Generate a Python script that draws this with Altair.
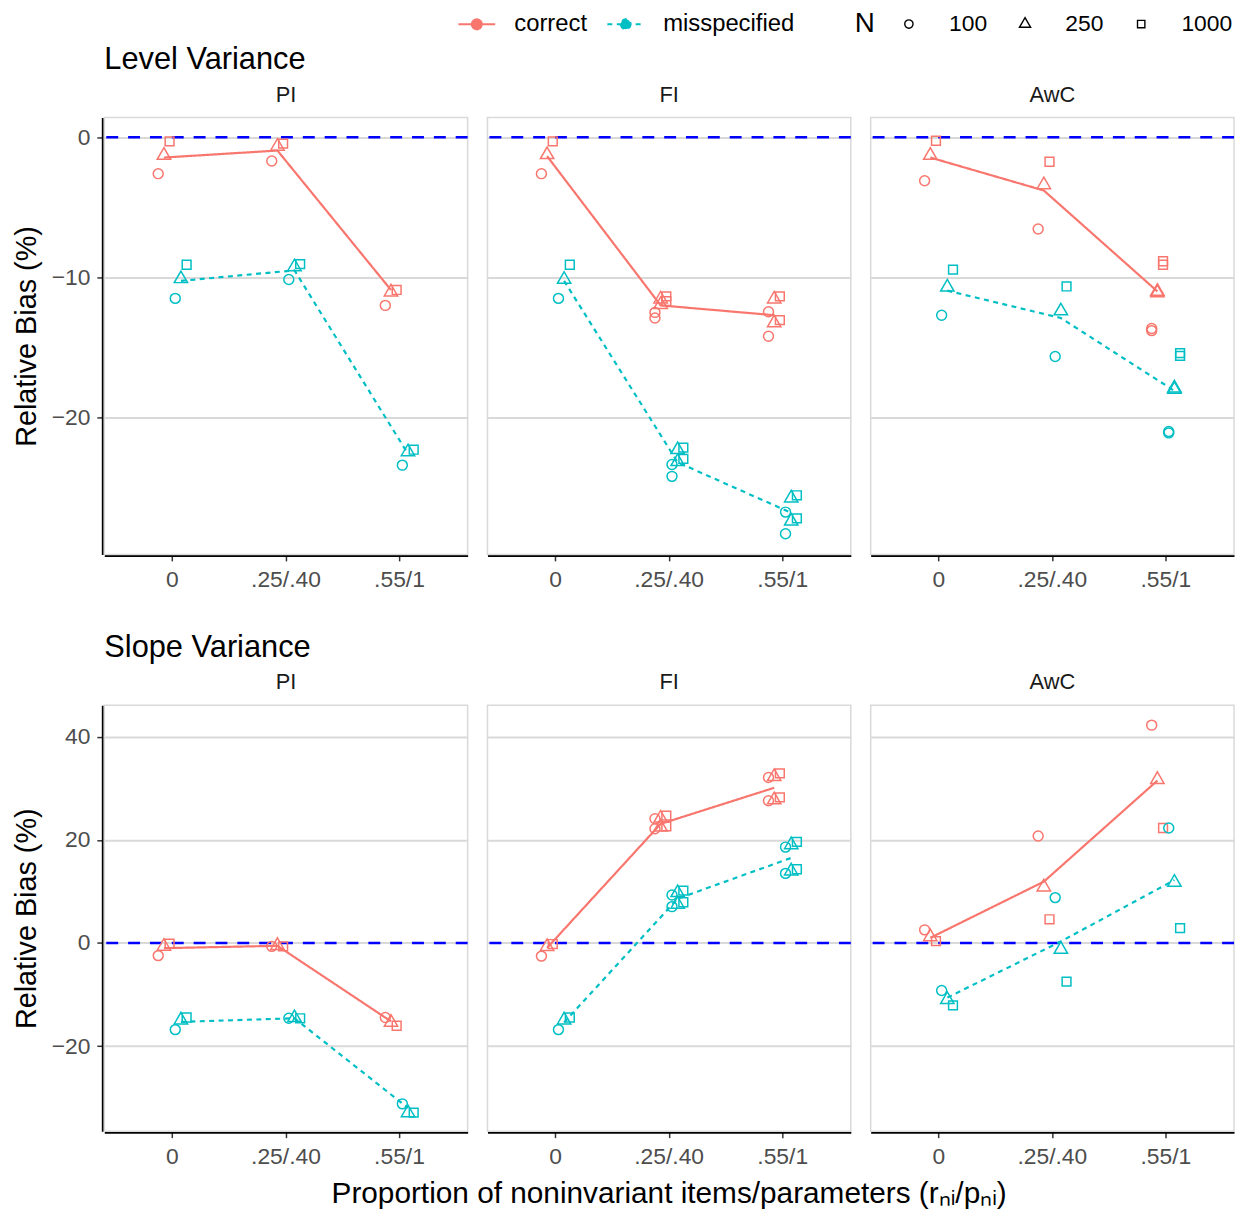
import altair as alt
import pandas as pd

FONT = "Liberation Sans"
PROPS = ["0", ".25/.40", ".55/1"]
METHODS = ["PI", "FI", "AwC"]
MODELS = ["correct", "misspecified"]
NS = ["100", "250", "1000"]
COLORS = ["#F8766D", "#00BFC4"]
GRPS = [f"{m} {n}" for m in MODELS for n in NS]

# Relative bias (%) of each plotted point: model -> N -> values per proportion category
# (two values where two conditions share a category)
level_PI = {
    "correct": {"100": [[-2.6], [-1.7], [-12.0]], "250": [[-1.3], [-0.65], [-11.05]], "1000": [[-0.3], [-0.45], [-10.9]]},
    "misspecified": {"100": [[-11.5], [-10.15], [-23.4]], "250": [[-10.1], [-9.25], [-22.45]], "1000": [[-9.1], [-9.05], [-22.3]]},
}
level_FI = {
    "correct": {"100": [[-2.6], [-12.5, -12.9], [-12.45, -14.2]], "250": [[-1.25], [-11.55, -11.95], [-11.55, -13.25]], "1000": [[-0.3], [-11.35, -11.7], [-11.35, -13.05]]},
    "misspecified": {"100": [[-11.5], [-23.35, -24.2], [-26.75, -28.3]], "250": [[-10.15], [-22.3, -23.15], [-25.75, -27.4]], "1000": [[-9.1], [-22.15, -22.95], [-25.55, -27.2]]},
}
level_AwC = {
    "correct": {"100": [[-3.1], [-6.55], [-13.65, -13.8]], "250": [[-1.3], [-3.4], [-11.0, -11.1]], "1000": [[-0.25], [-1.75], [-8.85, -9.1]]},
    "misspecified": {"100": [[-12.7], [-15.65], [-21.0, -21.1]], "250": [[-10.7], [-12.4], [-17.9, -18.0]], "1000": [[-9.45], [-10.65], [-15.4, -15.6]]},
}
slope_PI = {
    "correct": {"100": [[-2.45], [-0.65], [-14.45]], "250": [[-0.65], [-0.5], [-15.4]], "1000": [[-0.15], [-0.65], [-16.05]]},
    "misspecified": {"100": [[-16.8], [-14.6], [-31.2]], "250": [[-14.95], [-14.5], [-32.95]], "1000": [[-14.45], [-14.6], [-32.9]]},
}
slope_FI = {
    "correct": {"100": [[-2.55], [24.1, 22.15], [32.1, 27.6]], "250": [[-0.7], [24.2, 22.45], [32.25, 27.75]], "1000": [[-0.2], [24.7, 22.6], [32.9, 28.25]]},
    "misspecified": {"100": [[-16.8], [9.3, 7.05], [18.6, 13.5]], "250": [[-14.95], [9.75, 7.5], [19.05, 13.95]], "1000": [[-14.45], [10.15, 7.9], [19.6, 14.3]]},
}
slope_AwC = {
    "correct": {"100": [[2.55], [20.75], [42.25]], "250": [[1.2], [10.85], [31.7]], "1000": [[0.35], [4.6], [22.3]]},
    "misspecified": {"100": [[-9.2], [8.8], [22.3]], "250": [[-11.0], [-1.25], [11.75]], "1000": [[-12.1], [-7.5], [2.9]]},
}

# Summary lines (per model, per proportion category)
level_lines_PI = {"correct": [-1.45, -0.95, -10.9], "misspecified": [-10.25, -9.5, -22.6]}
level_lines_FI = {"correct": [-1.35, -12.0, -12.7], "misspecified": [-10.25, -23.2, -26.8]}
level_lines_AwC = {"correct": [-1.45, -3.8, -11.0], "misspecified": [-10.95, -12.9, -18.1]}
slope_lines_PI = {"correct": [-1.0, -0.55, -15.2], "misspecified": [-15.3, -14.6, -32.0]}
slope_lines_FI = {"correct": [-0.95, 23.1, 30.1], "misspecified": [-15.4, 8.6, 16.5]}
slope_lines_AwC = {"correct": [1.0, 11.9, 31.5], "misspecified": [-10.6, 0.3, 12.2]}

PANELS = [
    ("Level Variance", "PI", level_PI, level_lines_PI),
    ("Level Variance", "FI", level_FI, level_lines_FI),
    ("Level Variance", "AwC", level_AwC, level_lines_AwC),
    ("Slope Variance", "PI", slope_PI, slope_lines_PI),
    ("Slope Variance", "FI", slope_FI, slope_lines_FI),
    ("Slope Variance", "AwC", slope_AwC, slope_lines_AwC),
]

records = []
for outcome, method, pts, lines in PANELS:
    for model in MODELS:
        for n in NS:
            for prop, vals in zip(PROPS, pts[model][n]):
                for v in vals:
                    records.append(dict(outcome=outcome, method=method, prop=prop, model=model,
                                        N=n, grp=f"{model} {n}", kind="point", bias=v))
        for prop, v in zip(PROPS, lines[model]):
            records.append(dict(outcome=outcome, method=method, prop=prop, model=model,
                                N="250", grp=f"{model} 250", kind="line", bias=v))
df = pd.DataFrame(records)

CIRCLE = "M1,0A1,1,0,1,1,-1,0A1,1,0,1,1,1,0Z"
TRI = "M0,-1.555L1.347,0.778L-1.347,0.778Z"
SQ = "M-0.886,-0.886L0.886,-0.886L0.886,0.886L-0.886,0.886Z"
# line with a dot; drawn wider than its layout box so the legend row stays text-high
LINE_DOT = "M-1,0L3,0M1.54,0A0.54,0.54,0,1,1,0.46,0A0.54,0.54,0,1,1,1.54,0Z"

LEG_Y = -106


def model_legend():
    return alt.Legend(
        title=None, orient="none", legendX=354, legendY=LEG_Y, direction="horizontal",
        symbolType=LINE_DOT, symbolSize=342, symbolStrokeWidth=2,
        symbolFillColor={"expr": "datum.value === 'correct' ? '#F8766D' : '#00BFC4'"},
        labelFontSize=24, labelFont=FONT, labelColor="black", labelOffset=35,
        columnPadding=15,
    )


def row_chart(outcome, ydom, yvals, height, xtitle):
    d = df[df.outcome == outcome]
    x = alt.X("prop:N", sort=PROPS,
              scale=alt.Scale(domain=PROPS, paddingInner=0.75, paddingOuter=0.475),
              axis=alt.Axis(title=None, labelAngle=0, grid=False, bandPosition=0.5,
                            labelFontSize=23, labelFont=FONT, labelColor="#4D4D4D",
                            labelPadding=8, tickColor="#333333", tickSize=5.5, tickWidth=1.5,
                            domainColor="black", domainWidth=2))
    y = alt.Y("bias:Q", scale=alt.Scale(domain=ydom, nice=False, zero=False),
              axis=alt.Axis(values=yvals, title="Relative Bias (%)", titleFontSize=29,
                            titleFont=FONT, titleFontWeight="normal", titleColor="black",
                            titlePadding=10, labelFontSize=23, labelFont=FONT,
                            labelColor="#4D4D4D", labelPadding=7, tickColor="#333333",
                            tickSize=5.5, tickWidth=1.5, domainColor="black", domainWidth=2,
                            grid=True, gridColor="#D9D9D9", gridWidth=2))
    xo = alt.XOffset("grp:N", scale=alt.Scale(domain=GRPS, paddingInner=0, paddingOuter=0))
    color = alt.Color("model:N", scale=alt.Scale(domain=MODELS, range=COLORS), legend=model_legend())
    dash = alt.StrokeDash("model:N", scale=alt.Scale(domain=MODELS, range=[[1, 0], [5, 4.5]]),
                          legend=model_legend())

    rule = alt.Chart().transform_filter(
        "datum.kind === 'line' && datum.model === 'correct' && datum.prop === '0'"
    ).mark_rule(color="#0000FF", strokeDash=[12, 10], strokeWidth=2.5).encode(y=alt.datum(0))

    line = alt.Chart().transform_filter("datum.kind === 'line'").mark_line(strokeWidth=2.2).encode(
        x=x, xOffset=xo, y=y, color=color, strokeDash=dash, detail="model:N")

    pts = alt.Chart().transform_filter("datum.kind === 'point'").mark_point(
        filled=False, strokeWidth=1.5, size=100, opacity=1).encode(
        x=x, xOffset=xo, y=y,
        color=alt.Color("model:N", scale=alt.Scale(domain=MODELS, range=COLORS), legend=None),
        shape=alt.Shape("N:N", scale=alt.Scale(domain=NS, range=[CIRCLE, TRI, SQ]),
                        legend=alt.Legend(title="N", orient="none", legendX=756, legendY=LEG_Y,
                                          direction="horizontal", titleOrient="left",
                                          titleFontSize=28, titleFont=FONT,
                                          titleFontWeight="normal", titleColor="black",
                                          titlePadding=22, symbolSize=70,
                                          symbolStrokeColor="black", symbolStrokeWidth=1.4,
                                          labelFontSize=23, labelFont=FONT, labelColor="black",
                                          labelOffset=29, columnPadding=26)))

    header = dict(labelFontSize=22, labelFont=FONT, labelColor="#1A1A1A", labelPadding=10,
                  labelOrient="top")
    if xtitle:
        column = alt.Column("method:N", sort=METHODS, title=xtitle,
                            header=alt.Header(titleOrient="bottom", titleFontSize=30,
                                              titleFont=FONT, titleFontWeight="normal",
                                              titleColor="black", titlePadding=0, **header))
    else:
        column = alt.Column("method:N", sort=METHODS, header=alt.Header(title=None, **header))

    return alt.layer(rule, line, pts, data=d).properties(width=366, height=height).facet(
        column=column, spacing=16,
    ).properties(title=alt.TitleParams(outcome, anchor="start", frame="group", fontSize=31,
                                       font=FONT, fontWeight="normal", color="black",
                                       offset=8))


top = row_chart("Level Variance", [-29.77, 1.40], [-20, -10, 0], 440, None)
bottom = row_chart("Slope Variance", [-36.5, 46.1], [-20, 0, 20, 40], 429,
                   "Proportion of noninvariant items/parameters (rₙᵢ/pₙᵢ)")

chart = alt.vconcat(top, bottom, spacing=40).resolve_scale(y="independent").configure(
    font=FONT, padding={"left": 4, "top": 0, "right": 0, "bottom": 0}
).configure_view(stroke="#D9D9D9", strokeWidth=1.5)

chart.save("out.html", embed_options={"renderer": "svg", "actions": False})
